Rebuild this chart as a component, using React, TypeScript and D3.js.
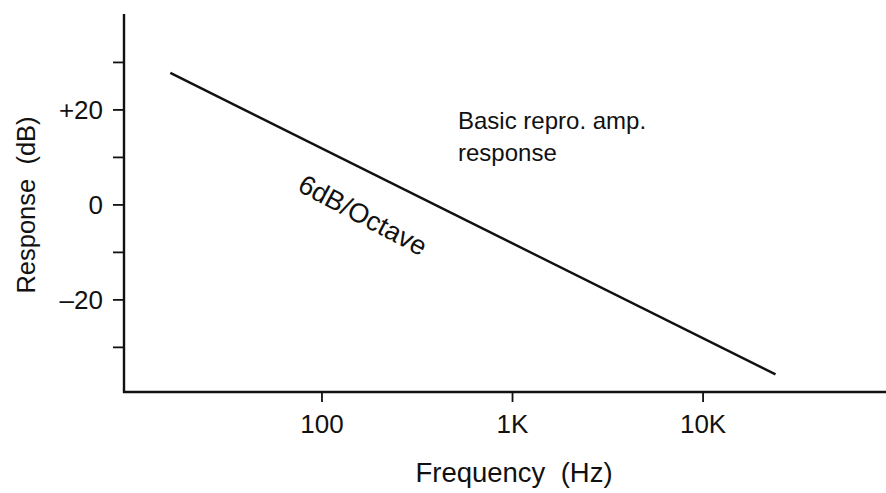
import React from "react";
import * as d3 from "d3";

const W = 886;
const H = 493;

// Response curve: frequency (Hz) and response (dB)
const freqHz = [16, 24000];
const responseDb = [27.8, -35.7];

const xTickValues = [100, 1000, 10000];
const xTickLabels = ["100", "1K", "10K"];
const yTickValues = [30, 20, 10, 0, -10, -20, -30];
const yTickLabels: Record<number, string> = { 20: "+20", 0: "0", [-20]: "–20" };

const FONT = "'Liberation Sans', Arial, Helvetica, sans-serif";

export default function App() {
  const x = d3.scaleLog().domain([Math.pow(10, 0.961), Math.pow(10, 4.96)]).range([124, 886]);
  const y = d3.scaleLinear().domain([-39.4, 40.2]).range([392, 14]);

  const pts = freqHz.map((f, i) => [f, responseDb[i]] as [number, number]);
  const line = d3.line<[number, number]>().x((d) => x(d[0])).y((d) => y(d[1]));

  const x0 = x.range()[0];
  const yBase = y(-39.4);

  const ang = (Math.atan2(y(responseDb[1]) - y(responseDb[0]), x(freqHz[1]) - x(freqHz[0])) * 180) / Math.PI + 1.5;

  return (
    <svg width={W} height={H} style={{ position: "absolute", left: 0, top: 0, background: "#fff" }}>
      <rect width={W} height={H} fill="#fff" />
      {/* axes */}
      <line x1={x0} x2={x0} y1={y(40.2)} y2={yBase + 1} stroke="#111" strokeWidth={2.4} />
      <line x1={x0 - 1} x2={W} y1={yBase} y2={yBase} stroke="#111" strokeWidth={2.4} />
      {/* y ticks */}
      {yTickValues.map((v) => (
        <g key={v}>
          <line x1={x0 - 11} x2={x0} y1={y(v)} y2={y(v)} stroke="#111" strokeWidth={1.8} />
          {yTickLabels[v] !== undefined && (
            <text x={103} y={y(v)} dy="0.36em" textAnchor="end" fontFamily={FONT} fontSize={26} fill="#111">
              {yTickLabels[v]}
            </text>
          )}
        </g>
      ))}
      {/* x ticks */}
      {xTickValues.map((v, i) => (
        <g key={v}>
          <line x1={x(v)} x2={x(v)} y1={yBase} y2={yBase + 10} stroke="#111" strokeWidth={1.8} />
          <text x={x(v)} y={433} textAnchor="middle" fontFamily={FONT} fontSize={26} fill="#111">
            {xTickLabels[i]}
          </text>
        </g>
      ))}
      {/* response line */}
      <path d={line(pts) || ""} fill="none" stroke="#111" strokeWidth={2.4} />
      {/* titles */}
      <text x={514} y={482} textAnchor="middle" fontFamily={FONT} fontSize={27.5} fill="#111">
        Frequency{"\u00a0\u00a0"}(Hz)
      </text>
      <text
        transform={`translate(35,${205}) rotate(-90)`}
        textAnchor="middle"
        fontFamily={FONT}
        fontSize={25.5}
        fill="#111"
      >
        Response{"\u00a0\u00a0"}(dB)
      </text>
      <text x={458} y={129} fontFamily={FONT} fontSize={24} fill="#111">
        Basic repro. amp.
      </text>
      <text x={458} y={161} fontFamily={FONT} fontSize={24} fill="#111">
        response
      </text>
      <text
        transform={`translate(363,215) rotate(${ang})`}
        dy="0.35em"
        textAnchor="middle"
        fontFamily={FONT}
        fontSize={27}
        fill="#111"
      >
        6dB/Octave
      </text>
    </svg>
  );
}
